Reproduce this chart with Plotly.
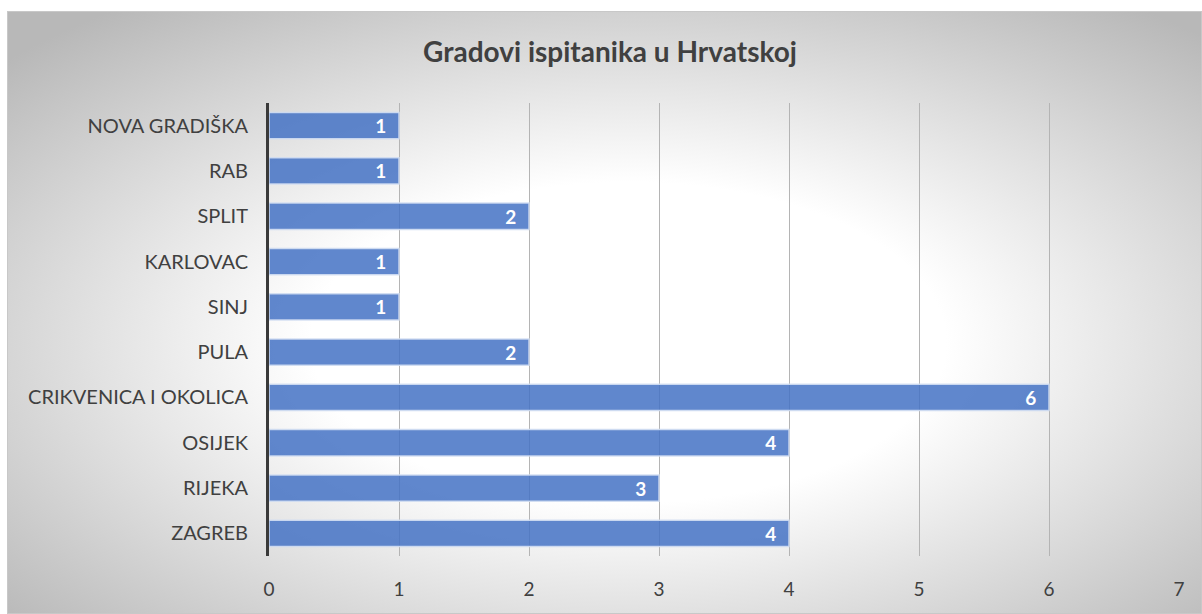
import plotly.graph_objects as go
import base64

cities = ["ZAGREB", "RIJEKA", "OSIJEK", "CRIKVENICA I OKOLICA", "PULA", "SINJ",
          "KARLOVAC", "SPLIT", "RAB", "NOVA GRADIŠKA"]
counts = [4, 3, 4, 6, 2, 1, 1, 2, 1, 1]
x_ticks = [0, 1, 2, 3, 4, 5, 6, 7]
title = "Gradovi ispitanika u Hrvatskoj"

W, H = 1202, 614
L, R, T, B = 269, 23, 103, 58
FONT = "Lato, Open Sans, sans-serif"

svg = ('<svg xmlns="http://www.w3.org/2000/svg" width="1195" height="603">'
       '<defs><radialGradient id="g" cx="0.52" cy="0.55" r="0.7">'
       '<stop offset="0" stop-color="#ffffff"/>'
       '<stop offset="0.38" stop-color="#ffffff"/>'
       '<stop offset="1" stop-color="#b8b8b8"/>'
       '</radialGradient></defs>'
       '<rect width="1195" height="603" fill="url(#g)"/>'
       '<rect x="0.5" y="0.5" width="1194" height="602" fill="none" stroke="#c8c8c8"/>'
       '</svg>')
src = "data:image/svg+xml;base64," + base64.b64encode(svg.encode()).decode()

pw, ph = W - L - R, H - T - B
img_x = (7 - L) / pw
img_y = (H - B - 11) / ph
img_sx = 1195 / pw
img_sy = 603 / ph

fig = go.Figure(go.Bar(
    y=cities, x=counts, orientation="h",
    marker=dict(color="rgba(68,114,196,0.85)", line=dict(color="rgba(210,222,242,0.9)", width=1.5)),
    width=0.58,
    text=[f"<b>{v}</b>\u00a0\u00a0" for v in counts],
    textposition="inside", insidetextanchor="end", textangle=0,
    textfont=dict(color="white", size=19, family=FONT),
    constraintext="none",
    hoverinfo="skip",
))

fig.update_layout(
    width=W, height=H,
    margin=dict(l=L, r=R, t=T, b=B),
    paper_bgcolor="white", plot_bgcolor="rgba(0,0,0,0)",
    title=dict(text=f"<b>{title}</b>", x=610 / W, xanchor="center", y=1 - 52 / H, yanchor="middle",
               font=dict(size=28, color="#404040", family=FONT)),
    showlegend=False,
    font=dict(family=FONT, color="#404040"),
    images=[dict(source=src, xref="paper", yref="paper", x=img_x, y=img_y,
                 sizex=img_sx, sizey=img_sy, sizing="stretch", xanchor="left", yanchor="top",
                 layer="below")],
    xaxis=dict(range=[0, 7], tickvals=x_ticks, showgrid=True, gridcolor="#b4b4b4", gridwidth=1,
               zeroline=False, showline=False, ticks="", tickfont=dict(size=19, color="#404040"),
               ticklabelstandoff=20, fixedrange=True),
    yaxis=dict(categoryorder="array", categoryarray=cities, showgrid=False, zeroline=False,
               showline=True, linecolor="#3a3a3a", linewidth=3, ticks="",
               tickfont=dict(size=20, color="#404040"), ticklabelstandoff=14, fixedrange=True),
)

fig.write_html("out.html", config={"displayModeBar": False},
               post_script="document.body.style.margin='0';document.body.style.overflow='hidden';")
